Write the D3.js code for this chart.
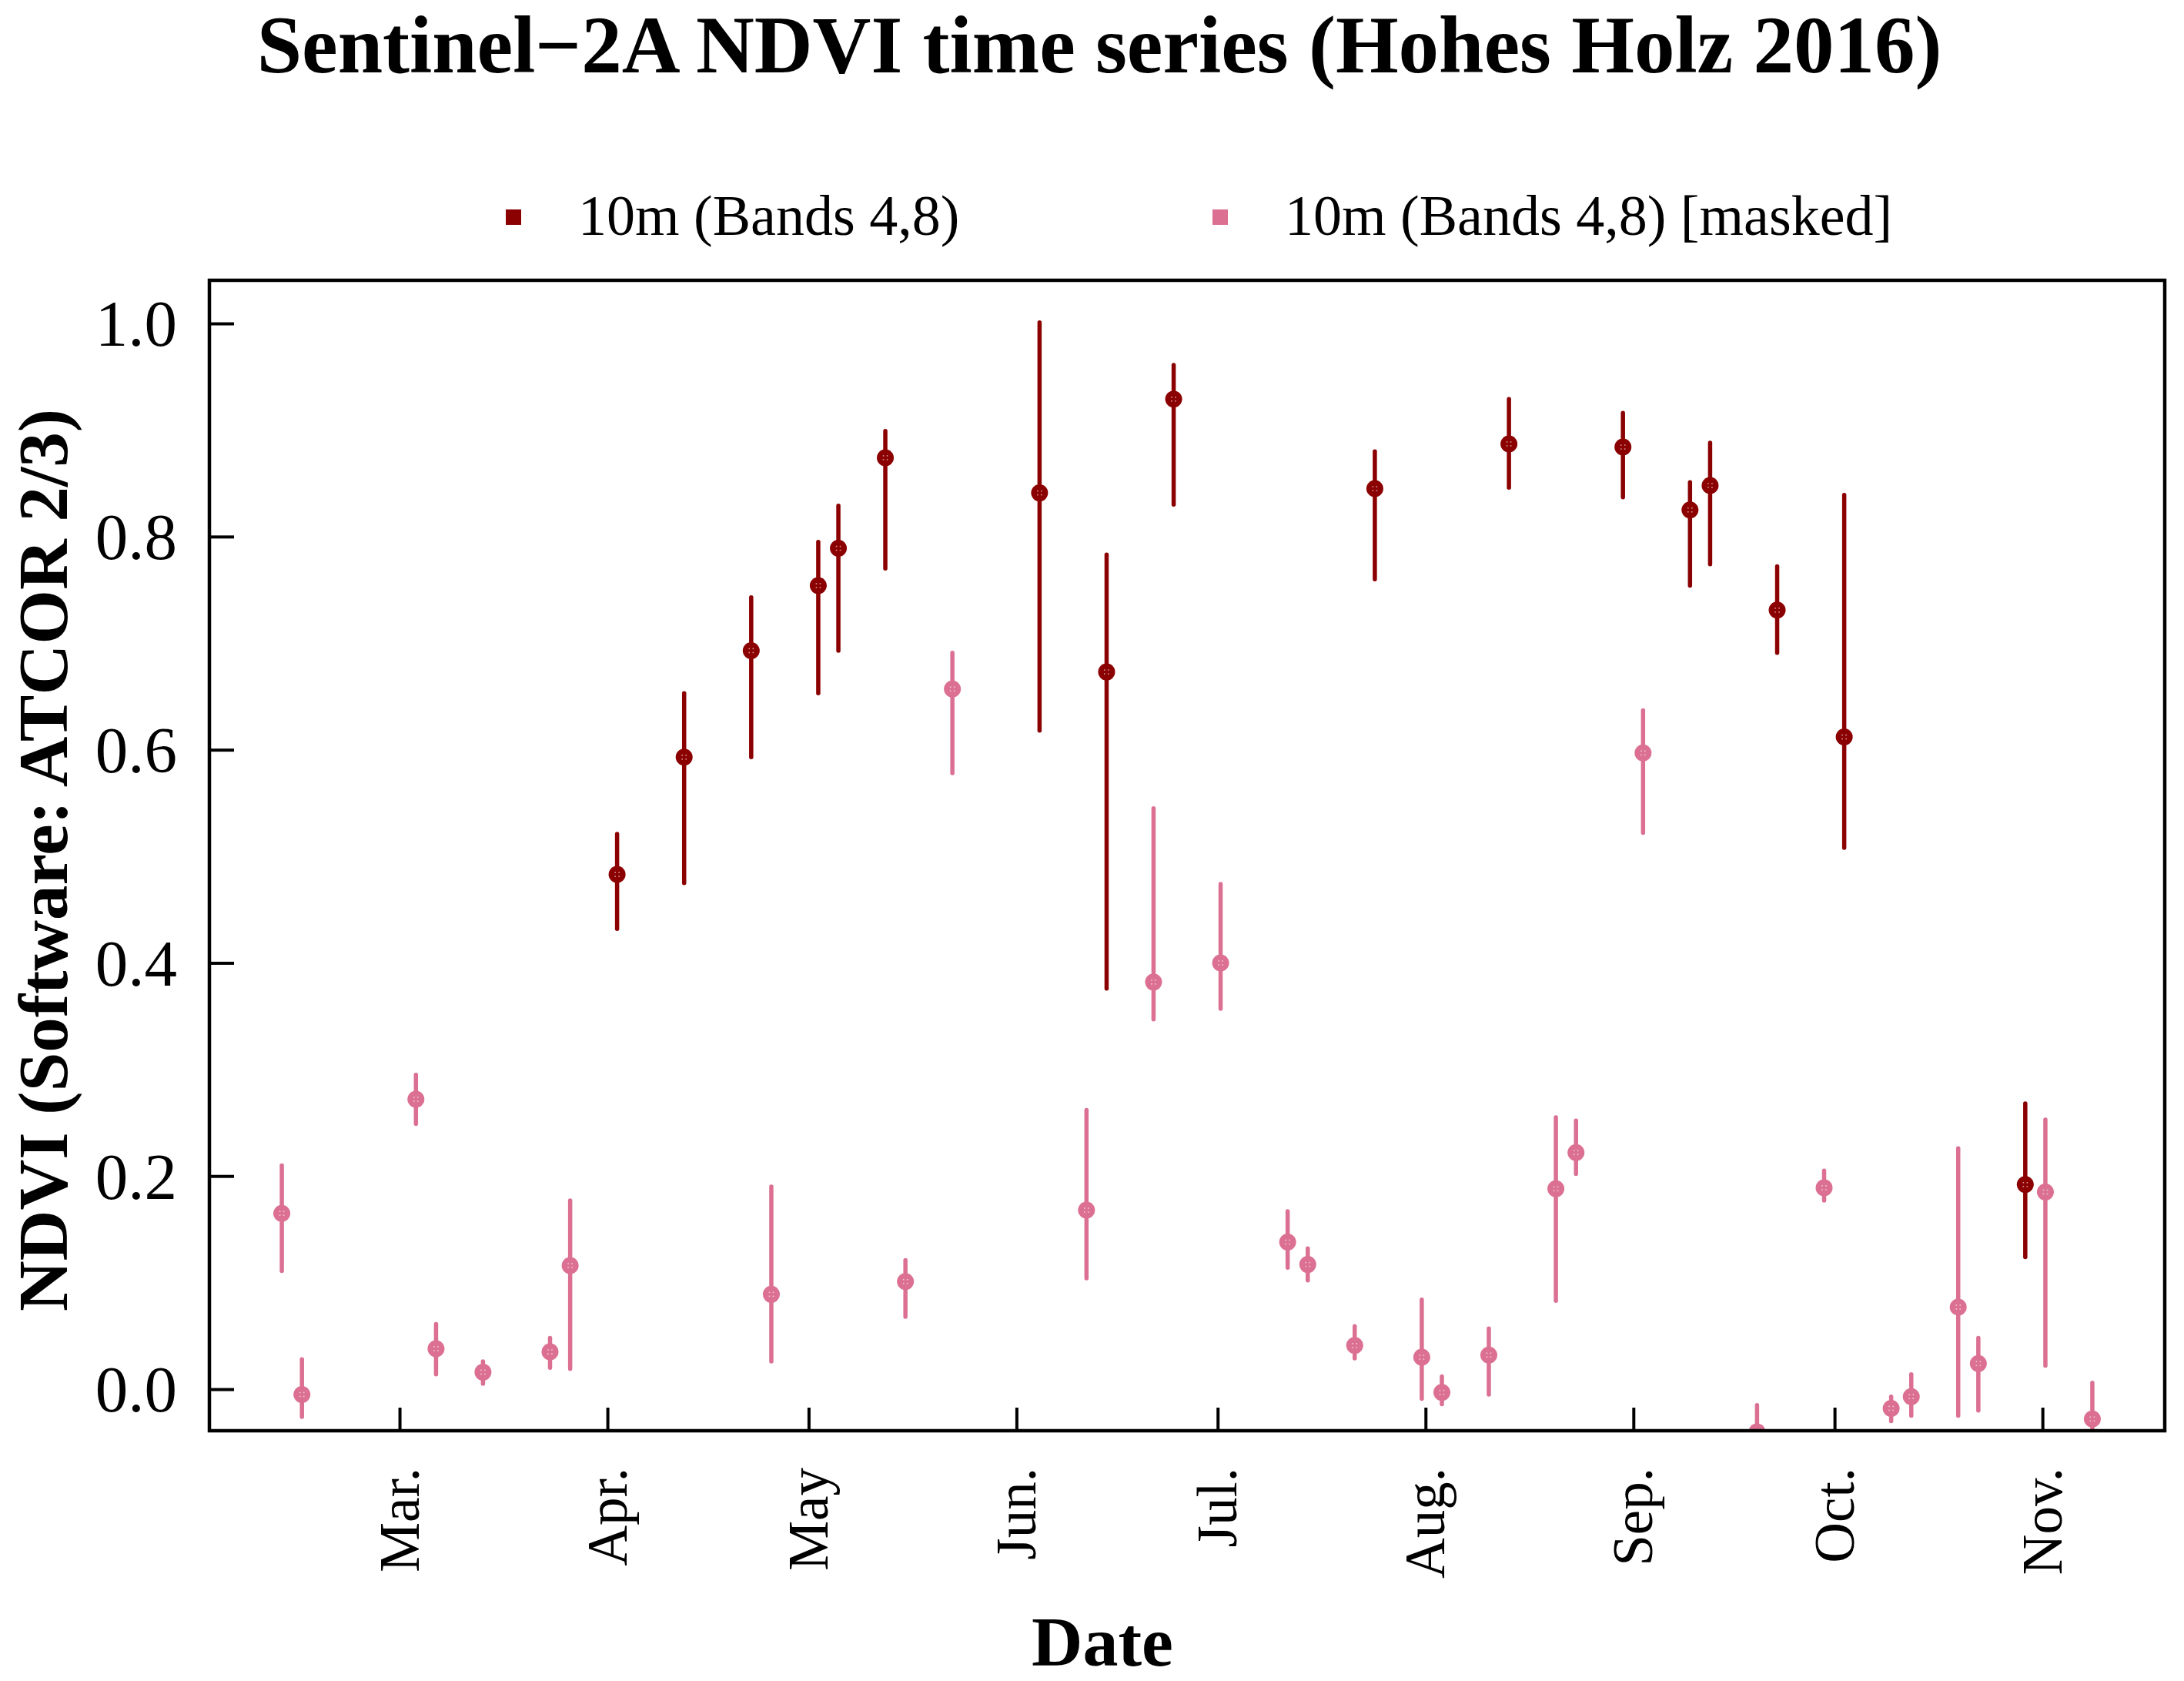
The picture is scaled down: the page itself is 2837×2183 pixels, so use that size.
<!DOCTYPE html>
<html>
<head>
<meta charset="utf-8">
<script src="https://cdn.jsdelivr.net/npm/d3@7"></script>
<style>
  html, body { margin: 0; padding: 0; background: #ffffff; }
  svg { display: block; }
  text { font-family: "Liberation Serif", "DejaVu Serif", serif; fill: #000; }
</style>
</head>
<body>
<svg id="chart" width="2837" height="2183"></svg>
<script>
// ---------------- data ----------------
const seriesNames = ["10m (Bands 4,8)", "10m (Bands 4,8) [masked]"];
const seriesColors = ["#8b0000", "#db7093"];

// unmasked 10m series
const datesA = ["2016-04-02","2016-04-12","2016-04-22","2016-05-02","2016-05-05","2016-05-12",
  "2016-06-04","2016-06-14","2016-06-24","2016-07-24","2016-08-13","2016-08-30",
  "2016-09-09","2016-09-12","2016-09-22","2016-10-02","2016-10-29"];
const meanA  = [0.483,0.593,0.693,0.754,0.789,0.874,0.841,0.673,0.929,0.845,0.887,0.884,0.825,0.848,0.731,0.612,0.192];
const upperA = [0.521,0.653,0.743,0.795,0.829,0.899,1.001,0.783,0.961,0.880,0.929,0.916,0.851,0.888,0.772,0.839,0.268];
const lowerA = [0.432,0.475,0.593,0.653,0.693,0.770,0.618,0.376,0.830,0.760,0.846,0.837,0.754,0.774,0.691,0.508,0.124];

// masked 10m series
const datesB = ["2016-02-12","2016-02-15","2016-03-03","2016-03-06","2016-03-13","2016-03-23",
  "2016-03-26","2016-04-25","2016-05-15","2016-05-22","2016-06-11","2016-06-21","2016-07-01",
  "2016-07-11","2016-07-14","2016-07-21","2016-07-31","2016-08-03","2016-08-10","2016-08-20",
  "2016-08-23","2016-09-02","2016-09-19","2016-09-29","2016-10-09","2016-10-12","2016-10-19",
  "2016-10-22","2016-11-01","2016-11-08"];
const meanB  = [0.165,-0.005,0.272,0.038,0.016,0.035,0.116,0.089,0.101,0.657,0.168,0.382,0.400,
  0.138,0.117,0.041,0.030,-0.003,0.032,0.188,0.222,0.597,-0.040,0.189,-0.018,-0.007,0.077,0.024,0.185,-0.028];
const upperB = [0.210,0.028,0.295,0.061,0.026,0.048,0.177,0.190,0.121,0.691,0.262,0.545,0.474,
  0.167,0.132,0.059,0.084,0.012,0.057,0.255,0.252,0.637,-0.015,0.205,-0.007,0.014,0.226,0.048,0.253,0.006];
const lowerB = [0.111,-0.026,0.249,0.014,0.005,0.020,0.019,0.026,0.068,0.578,0.104,0.347,0.357,
  0.114,0.102,0.029,-0.009,-0.014,-0.005,0.083,0.202,0.522,-0.065,0.177,-0.030,-0.025,-0.025,-0.020,0.022,-0.055];

const acquisitionTime = "T10:30:00Z";
const monthTickDates = ["2016-03-01","2016-04-01","2016-05-01","2016-06-01","2016-07-01",
  "2016-08-01","2016-09-01","2016-10-01","2016-11-01"];
const monthTickLabels = ["Mar.","Apr.","May","Jun.","Jul.","Aug.","Sep.","Oct.","Nov."];
const yTicks = [0.0, 0.2, 0.4, 0.6, 0.8, 1.0];
const yLimits = [-0.039, 1.0405];

const titleText = "Sentinel\u22122A NDVI time series (Hohes Holz 2016)";
const xLabel = "Date";
const yLabel = "NDVI (Software: ATCOR 2/3)";

// ---------------- layout ----------------
const W = 2837, H = 2183;
const plot = { left: 272, right: 2812, top: 364, bottom: 1858 };

const svg = d3.select("#chart");
svg.append("rect").attr("width", W).attr("height", H).attr("fill", "#fff");

const parseT = s => new Date(s + acquisitionTime);
function buildSeries(dates, mean, upper, lower) {
  return dates.map((d, i) => ({ t: parseT(d), m: mean[i], hi: upper[i], lo: lower[i] }));
}
const series = [
  buildSeries(datesA, meanA, upperA, lowerA),
  buildSeries(datesB, meanB, upperB, lowerB)
];

const allT = series.flat().map(d => +d.t);
const tMin = d3.min(allT), tMax = d3.max(allT);
const pad = 0.04 * (tMax - tMin);
const x = d3.scaleUtc()
  .domain([new Date(tMin - pad), new Date(tMax + pad)])
  .range([plot.left, plot.right]);
const y = d3.scaleLinear().domain(yLimits).range([plot.bottom, plot.top]);

// clip
svg.append("defs").append("clipPath").attr("id", "clip")
  .append("rect")
  .attr("x", plot.left).attr("y", plot.top)
  .attr("width", plot.right - plot.left).attr("height", plot.bottom - plot.top);

// ---------------- marks ----------------
const marks = svg.append("g").attr("clip-path", "url(#clip)");
// draw masked first, then unmasked
[1, 0].forEach(si => {
  const g = marks.append("g");
  const col = seriesColors[si];
  g.selectAll("line.err").data(series[si]).join("line")
    .attr("class", "err")
    .attr("x1", d => x(d.t)).attr("x2", d => x(d.t))
    .attr("y1", d => y(d.lo)).attr("y2", d => y(d.hi))
    .attr("stroke", col).attr("stroke-width", 5.5).attr("stroke-linecap", "round");
  g.selectAll("circle.pt").data(series[si]).join("circle")
    .attr("class", "pt")
    .attr("cx", d => x(d.t)).attr("cy", d => y(d.m))
    .attr("r", 11).attr("fill", col);
  // tiny inner gaps of the circle-plus symbol
  g.selectAll("g.gap").data(series[si]).join("g")
    .attr("class", "gap")
    .attr("transform", d => `translate(${x(d.t)},${y(d.m)})`)
    .each(function () {
      const gg = d3.select(this);
      [[-2.5,-2.5],[2.5,-2.5],[-2.5,2.5],[2.5,2.5]].forEach(([dx, dy]) => {
        gg.append("rect").attr("x", dx - 0.8).attr("y", dy - 0.8)
          .attr("width", 1.6).attr("height", 1.6)
          .attr("fill", "#fff").attr("opacity", 0.6);
      });
    });
});

// ---------------- axes ----------------
const yAxis = d3.axisLeft(y).tickValues(yTicks).tickFormat(d3.format(".1f"))
  .tickSizeInner(-32).tickSizeOuter(0).tickPadding(42);
const gy = svg.append("g").attr("transform", `translate(${plot.left},0)`).call(yAxis);
gy.select(".domain").remove();
gy.selectAll(".tick line").attr("stroke", "#000").attr("stroke-width", 4);
gy.selectAll(".tick text")
  .attr("font-family", "Liberation Serif").attr("font-size", 85)
  .attr("fill", "#000").attr("dy", "0.34em");

const xAxis = d3.axisBottom(x).tickValues(monthTickDates.map(s => new Date(s + "T00:00:00Z")))
  .tickFormat((d, i) => monthTickLabels[i])
  .tickSizeInner(-30).tickSizeOuter(0);
const gx = svg.append("g").attr("transform", `translate(0,${plot.bottom})`).call(xAxis);
gx.select(".domain").remove();
gx.selectAll(".tick line").attr("stroke", "#000").attr("stroke-width", 4);
gx.selectAll(".tick text")
  .attr("font-family", "Liberation Serif").attr("font-size", 73)
  .attr("fill", "#000")
  .attr("x", 0).attr("y", 0).attr("dy", "0.33em")
  .attr("text-anchor", "end")
  .attr("transform", "translate(0,48) rotate(-90)");

// box
svg.append("rect")
  .attr("x", plot.left).attr("y", plot.top)
  .attr("width", plot.right - plot.left).attr("height", plot.bottom - plot.top)
  .attr("fill", "none").attr("stroke", "#000").attr("stroke-width", 4.5);

// ---------------- titles ----------------
svg.append("text").text(titleText)
  .attr("x", 1428).attr("y", 94).attr("text-anchor", "middle")
  .attr("font-weight", "bold").attr("font-size", 105);

svg.append("text").text(xLabel)
  .attr("x", 1432).attr("y", 2163).attr("text-anchor", "middle")
  .attr("font-weight", "bold").attr("font-size", 92);

svg.append("text").text(yLabel)
  .attr("transform", "translate(87,1117) rotate(-90)")
  .attr("text-anchor", "middle")
  .attr("font-weight", "bold").attr("font-size", 91);

// ---------------- legend ----------------
const legendX = [667, 1585];
const legend = svg.append("g");
seriesNames.forEach((name, i) => {
  legend.append("rect")
    .attr("x", legendX[i] - 10).attr("y", 272).attr("width", 20).attr("height", 20)
    .attr("fill", seriesColors[i]);
  legend.append("text").text(name)
    .attr("x", legendX[i] + 84).attr("y", 305)
    .attr("font-size", 74);
});
</script>
</body>
</html>
